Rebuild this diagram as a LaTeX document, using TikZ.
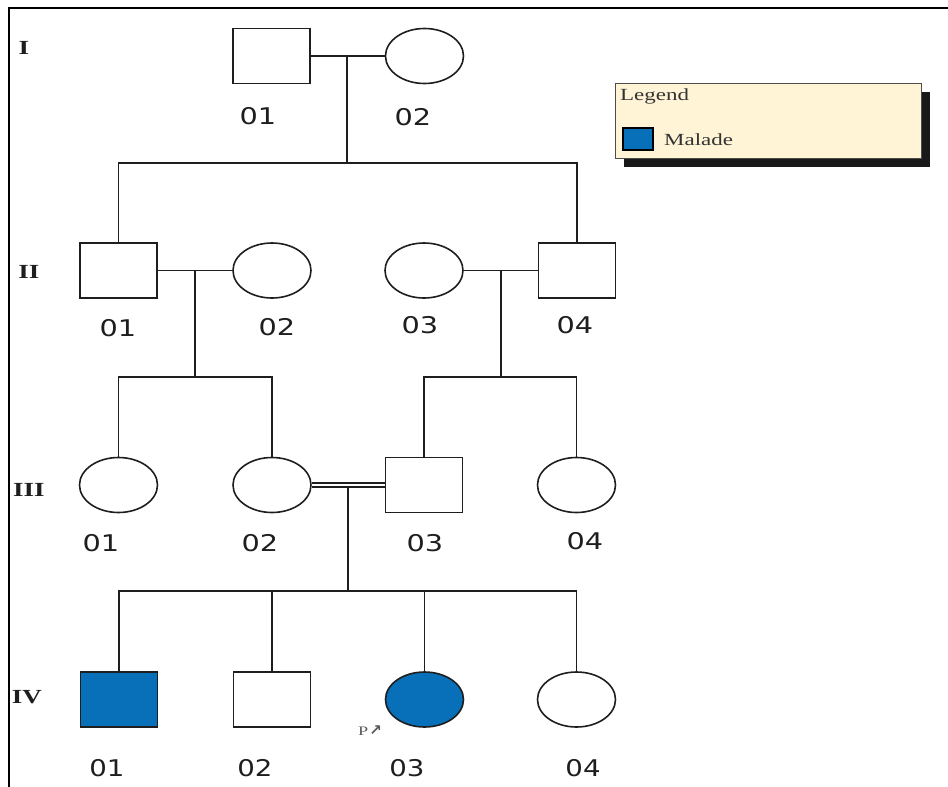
\documentclass[tikz,border=0pt]{standalone}
\usepackage{fontspec}
\usepackage{graphicx}
\setmainfont{Liberation Serif}
\newfontfamily\labfont{DejaVu Sans}
\newfontfamily\serfont{Liberation Serif}
\newfontfamily\symfont{DejaVu Sans}
\usetikzlibrary{shapes.geometric,shadows}
\definecolor{sick}{HTML}{0870B8}
\definecolor{legfill}{HTML}{FFF4D6}
\definecolor{ink}{HTML}{1E1E1E}
\begin{document}
\begin{tikzpicture}[x=1pt,y=-1pt,
  male/.style={draw=ink,line width=1.6pt,rectangle,minimum width=77pt,minimum height=55pt,inner sep=0pt,fill=white},
  female/.style={draw=ink,line width=1.6pt,ellipse,minimum width=78pt,minimum height=55pt,inner sep=0pt,fill=white},
  affected/.style={fill=sick},
  rel/.style={draw=ink,line width=1.6pt},
  idlab/.style={inner sep=0pt,text=ink,font=\labfont\fontsize{23}{23}\selectfont},
  genlab/.style={inner sep=0pt,text=ink,font=\serfont\bfseries\fontsize{20}{20}\selectfont},
  legtext/.style={inner sep=0pt,text=black!80,font=\serfont\fontsize{17}{17}\selectfont}]
\useasboundingbox (0,0) rectangle (948,787);
% frame
\coordinate (ftl) at (9,8);
\coordinate (ftr) at (948,8);
\coordinate (fbl) at (9,787);
\draw[line width=2pt] (ftr) -- (ftl) -- (fbl);

% generation labels
\node[genlab] (gI) at (24,48) {\scalebox{1.35}[1]{I}};
\node[genlab] (gII) at (29,272) {\scalebox{1.35}[1]{II}};
\node[genlab] (gIII) at (29,490) {\scalebox{1.35}[1]{III}};
\node[genlab] (gIV) at (27,697) {\scalebox{1.35}[1]{IV}};

% Generation I
\node[male] (i1) at (271.5,56) {};
\node[female] (i2) at (424.5,56) {};
\node[idlab] (li1) at (258,116) {\scalebox{1.25}[1]{01}};
\node[idlab] (li2) at (413,117) {\scalebox{1.25}[1]{02}};

% Generation II
\node[male] (ii1) at (118.5,270.5) {};
\node[female] (ii2) at (272,270.5) {};
\node[female] (ii3) at (424,270.5) {};
\node[male] (ii4) at (577,270.5) {};
\node[idlab] (lii1) at (118,328) {\scalebox{1.25}[1]{01}};
\node[idlab] (lii2) at (277,327) {\scalebox{1.25}[1]{02}};
\node[idlab] (lii3) at (420,325) {\scalebox{1.25}[1]{03}};
\node[idlab] (lii4) at (575,325) {\scalebox{1.25}[1]{04}};

% Generation III
\node[female] (iii1) at (118.5,485) {};
\node[female] (iii2) at (272,485) {};
\node[male] (iii3) at (424,485) {};
\node[female] (iii4) at (576.5,485) {};
\node[idlab] (liii1) at (101,543) {\scalebox{1.25}[1]{01}};
\node[idlab] (liii2) at (260,543) {\scalebox{1.25}[1]{02}};
\node[idlab] (liii3) at (425,543) {\scalebox{1.25}[1]{03}};
\node[idlab] (liii4) at (585,541) {\scalebox{1.25}[1]{04}};

% Generation IV
\node[male,affected] (iv1) at (119,699.5) {};
\node[male] (iv2) at (272,699.5) {};
\node[female,affected] (iv3) at (424.5,699.5) {};
\node[female] (iv4) at (576.5,699.5) {};
\node[idlab] (liv1) at (107,768) {\scalebox{1.2}[1]{01}};
\node[idlab] (liv2) at (255,768) {\scalebox{1.2}[1]{02}};
\node[idlab] (liv3) at (407,768) {\scalebox{1.2}[1]{03}};
\node[idlab] (liv4) at (583,768) {\scalebox{1.2}[1]{04}};
\node[inner sep=0pt,text=black!65] (proband) at (370,731)
  {\serfont\fontsize{13}{13}\selectfont\scalebox{1.4}[1]{P}\kern1pt{\symfont\bfseries\fontsize{15}{15}\selectfont ↗}};

% Coordinates of the connector network
\coordinate (m1) at (347,57);
\coordinate (s2) at (347,163);
\coordinate (m2) at (195,271);
\coordinate (s3a) at (195,377);
\coordinate (m3) at (501,271);
\coordinate (s3b) at (501,377);
\coordinate (m4) at (348,487);
\coordinate (s4) at (348,591);

% Connectors
\draw[rel] (i1.east) -- (i2.west);
\draw[rel] (m1) -- (s2);
\draw[rel] (ii1.north) |- (s2) -| (ii4.north);

\draw[rel] (ii1.east) -- (ii2.west);
\draw[rel] (m2) -- (s3a);
\draw[rel] (iii1.north) |- (s3a) -| (iii2.north);

\draw[rel] (ii3.east) -- (ii4.west);
\draw[rel] (m3) -- (s3b);
\draw[rel] (iii3.north) |- (s3b) -| (iii4.north);

\draw[rel] ([yshift=2.2pt]iii2.east) -- ([yshift=2.2pt]iii3.west);
\draw[rel] ([yshift=-2.2pt]iii2.east) -- ([yshift=-2.2pt]iii3.west);
\draw[rel] (m4) -- (s4);
\draw[rel] (iv1.north) |- (s4) -| (iv4.north);
\draw[rel] (iv2.north) -- (iv2.north |- s4);
\draw[rel] (iv3.north) -- (iv3.north |- s4);

% Legend
\node[draw=black!70,line width=1.2pt,fill=legfill,rectangle,minimum width=306pt,minimum height=75pt,inner sep=0pt,anchor=north west,
  drop shadow={shadow xshift=8pt,shadow yshift=-8pt,fill=black,opacity=0.9}] (legend) at (615,83) {};
\node[legtext,anchor=west] (legtitle) at (620,96) {\scalebox{1.35}[1]{Legend}};
\node[draw=black,line width=1.2pt,fill=sick,minimum width=30pt,minimum height=22pt,inner sep=0pt] (legsym) at (638,139) {};
\node[legtext,anchor=west] (legmal) at (664,140) {\scalebox{1.35}[1]{Malade}};
\end{tikzpicture}
\end{document}
